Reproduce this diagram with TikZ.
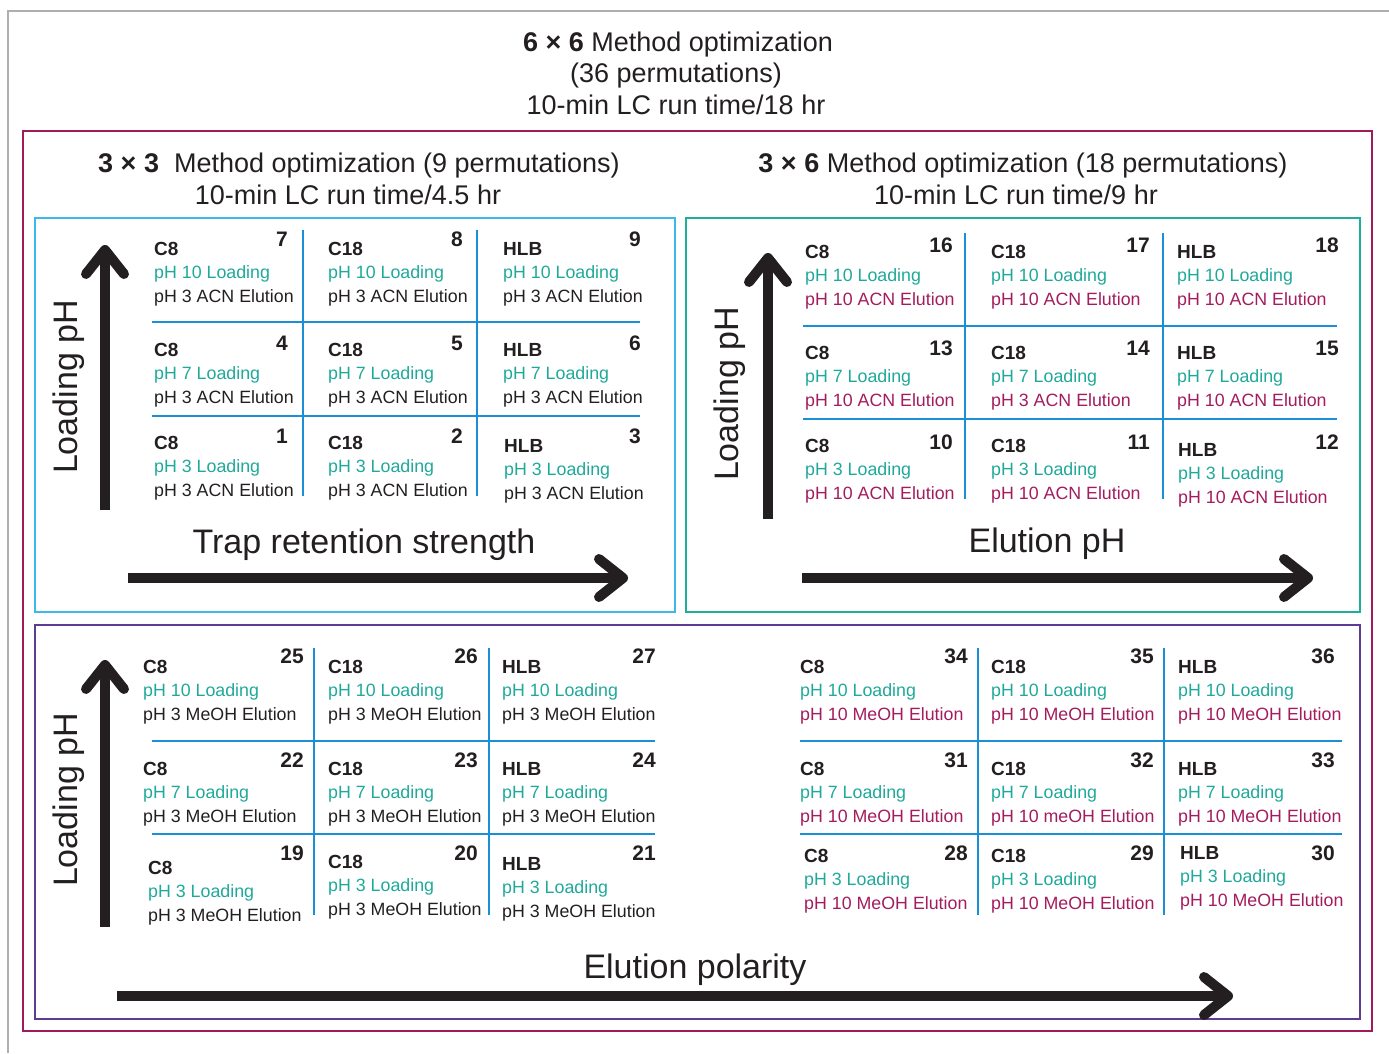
\documentclass[tikz,border=0pt]{standalone}
\usepackage{fontspec}
\setmainfont{Liberation Sans}
\usetikzlibrary{arrows.meta}

\definecolor{txt}{RGB}{35,31,32}
\definecolor{loadcol}{RGB}{31,169,154}
\definecolor{elucol}{RGB}{163,28,94}
\definecolor{gridcol}{RGB}{26,143,214}
\definecolor{cyanbox}{RGB}{61,185,233}
\definecolor{tealbox}{RGB}{31,174,153}
\definecolor{purplebox}{RGB}{94,60,146}
\definecolor{maroonbox}{RGB}{160,26,92}
\definecolor{framegray}{RGB}{175,175,175}

\newcommand{\cellfont}{\fontsize{17.8}{23.5}\selectfont}
\newcommand{\labfont}{\fontsize{19}{23.5}\selectfont\bfseries}
\newcommand{\numfont}{\fontsize{21}{24}\selectfont\bfseries}
\newcommand{\headfont}{\fontsize{27}{32}\selectfont}
\newcommand{\axisfont}{\fontsize{34}{40}\selectfont}

% one trap cell: number, x, top, number x, number top, column, loading pH, elution colour, elution
\newcommand{\trap}[9]{%
  \node[cell] (c#1) at (#2,#3) {{\labfont #6}\\\textcolor{loadcol}{pH #7 Loading}\\\textcolor{#8}{#9}};
  \node[num] (n#1) at (#4,#5) {#1};
}

\tikzset{
  cell/.style={anchor=north west, inner sep=0pt, align=left, font=\cellfont, text=txt},
  num/.style={anchor=north east, inner sep=0pt, font=\numfont, text=txt},
  head/.style={anchor=base, inner sep=0pt, font=\headfont, text=txt},
  axislabel/.style={anchor=base, inner sep=0pt, font=\axisfont, text=txt},
  gridline/.style={draw=gridcol, line width=2.5pt},
  axisarrow/.style={draw=txt, line width=10pt, -{Straight Barb[length=24pt, width=38pt, round]}},
}

\begin{document}
\begin{tikzpicture}[x=1pt, y=-1pt]
  \useasboundingbox (0,0) rectangle (1389,1053);

  % frames
  \draw[framegray, line width=1.5pt] (8,1053) -- (8,11) -- (1389,11);
  \draw[maroonbox, line width=2pt] (23,131) rectangle (1372,1031);
  \draw[cyanbox, line width=2pt] (35,218) rectangle (675,612);
  \draw[tealbox, line width=2pt] (686,218) rectangle (1360,612);
  \draw[purplebox, line width=2pt] (35,625) rectangle (1360,1019);

  % titles
  \node[head] (t1) at (678,51) {\textbf{6 × 6} Method optimization};
  \node[head] (t2) at (676,82) {(36 permutations)};
  \node[head] (t3) at (676,114) {10-min LC run time/18 hr};
  \node[head] (s1) at (359,172) {\textbf{3 × 3}\ \ Method optimization (9 permutations)};
  \node[head] (s2) at (348,204) {10-min LC run time/4.5 hr};
  \node[head] (r1) at (1023,172) {\textbf{3 × 6} Method optimization (18 permutations)};
  \node[head] (r2) at (1016,204) {10-min LC run time/9 hr};

  % grids
  \draw[gridline] (303,230) -- (303,496) (477,230) -- (477,496)
    (152,322) -- (640,322) (152,416) -- (640,416);
  \draw[gridline] (965,233) -- (965,499) (1163,233) -- (1163,499)
    (803,326) -- (1337,326) (803,419) -- (1337,419);
  \draw[gridline] (314,648) -- (314,915) (489,648) -- (489,915)
    (152,741) -- (655,741) (152,834) -- (655,834);
  \draw[gridline] (978,648) -- (978,915) (1164,648) -- (1164,915)
    (800,741) -- (1342,741) (800,834) -- (1342,834);

  % 3 x 3, pH 3 ACN elution
  \trap{7}{154}{242}{288}{232}{C8}{10}{txt}{pH 3 ACN Elution}
  \trap{8}{328}{242}{463}{232}{C18}{10}{txt}{pH 3 ACN Elution}
  \trap{9}{503}{242}{641}{232}{HLB}{10}{txt}{pH 3 ACN Elution}
  \trap{4}{154}{343}{288}{336}{C8}{7}{txt}{pH 3 ACN Elution}
  \trap{5}{328}{343}{463}{336}{C18}{7}{txt}{pH 3 ACN Elution}
  \trap{6}{503}{343}{641}{336}{HLB}{7}{txt}{pH 3 ACN Elution}
  \trap{1}{154}{436}{288}{429}{C8}{3}{txt}{pH 3 ACN Elution}
  \trap{2}{328}{436}{463}{429}{C18}{3}{txt}{pH 3 ACN Elution}
  \trap{3}{504}{439}{641}{429}{HLB}{3}{txt}{pH 3 ACN Elution}

  % 3 x 6, pH 10 ACN elution
  \trap{16}{805}{245}{953}{238}{C8}{10}{elucol}{pH 10 ACN Elution}
  \trap{17}{991}{245}{1150}{238}{C18}{10}{elucol}{pH 10 ACN Elution}
  \trap{18}{1177}{245}{1339}{238}{HLB}{10}{elucol}{pH 10 ACN Elution}
  \trap{13}{805}{346}{953}{341}{C8}{7}{elucol}{pH 10 ACN Elution}
  \trap{14}{991}{346}{1150}{341}{C18}{7}{elucol}{pH 3 ACN Elution}
  \trap{15}{1177}{346}{1339}{341}{HLB}{7}{elucol}{pH 10 ACN Elution}
  \trap{10}{805}{439}{953}{435}{C8}{3}{elucol}{pH 10 ACN Elution}
  \trap{11}{991}{439}{1150}{435}{C18}{3}{elucol}{pH 10 ACN Elution}
  \trap{12}{1178}{443}{1339}{435}{HLB}{3}{elucol}{pH 10 ACN Elution}

  % MeOH elution
  \trap{25}{143}{660}{304}{649}{C8}{10}{txt}{pH 3 MeOH Elution}
  \trap{26}{328}{660}{478}{649}{C18}{10}{txt}{pH 3 MeOH Elution}
  \trap{27}{502}{660}{656}{649}{HLB}{10}{txt}{pH 3 MeOH Elution}
  \trap{22}{143}{762}{304}{753}{C8}{7}{txt}{pH 3 MeOH Elution}
  \trap{23}{328}{762}{478}{753}{C18}{7}{txt}{pH 3 MeOH Elution}
  \trap{24}{502}{762}{656}{753}{HLB}{7}{txt}{pH 3 MeOH Elution}
  \trap{19}{148}{861}{304}{846}{C8}{3}{txt}{pH 3 MeOH Elution}
  \trap{20}{328}{855}{478}{846}{C18}{3}{txt}{pH 3 MeOH Elution}
  \trap{21}{502}{857}{656}{846}{HLB}{3}{txt}{pH 3 MeOH Elution}

  \trap{34}{800}{660}{968}{649}{C8}{10}{elucol}{pH 10 MeOH Elution}
  \trap{35}{991}{660}{1154}{649}{C18}{10}{elucol}{pH 10 MeOH Elution}
  \trap{36}{1178}{660}{1335}{649}{HLB}{10}{elucol}{pH 10 MeOH Elution}
  \trap{31}{800}{762}{968}{753}{C8}{7}{elucol}{pH 10 MeOH Elution}
  \trap{32}{991}{762}{1154}{753}{C18}{7}{elucol}{pH 10 meOH Elution}
  \trap{33}{1178}{762}{1335}{753}{HLB}{7}{elucol}{pH 10 MeOH Elution}
  \trap{28}{804}{849}{968}{846}{C8}{3}{elucol}{pH 10 MeOH Elution}
  \trap{29}{991}{849}{1154}{846}{C18}{3}{elucol}{pH 10 MeOH Elution}
  \trap{30}{1180}{846}{1335}{846}{HLB}{3}{elucol}{pH 10 MeOH Elution}

  % axes
  \node[axislabel, rotate=90] (ylA) at (77,387) {Loading pH};
  \node[axislabel, rotate=90] (ylB) at (738,394) {Loading pH};
  \node[axislabel, rotate=90] (ylC) at (77,800) {Loading pH};
  \node[axislabel] (xlA) at (364,553) {Trap retention strength};
  \node[axislabel] (xlB) at (1047,552) {Elution pH};
  \node[axislabel] (xlC) at (695,978) {Elution polarity};

  \coordinate (yA0) at (105,510);
  \coordinate (yA1) at (105,245);
  \coordinate (yB0) at (768,519);
  \coordinate (yB1) at (768,253);
  \coordinate (yC0) at (105,927);
  \coordinate (yC1) at (105,660);
  \coordinate (xA0) at (128,578);
  \coordinate (xA1) at (628,578);
  \coordinate (xB0) at (802,578);
  \coordinate (xB1) at (1313,578);
  \coordinate (xC0) at (117,996);
  \coordinate (xC1) at (1233,996);
  \draw[axisarrow] (yA0) -- (yA1);
  \draw[axisarrow] (yB0) -- (yB1);
  \draw[axisarrow] (yC0) -- (yC1);
  \draw[axisarrow] (xA0) -- (xA1);
  \draw[axisarrow] (xB0) -- (xB1);
  \draw[axisarrow] (xC0) -- (xC1);
\end{tikzpicture}
\end{document}
